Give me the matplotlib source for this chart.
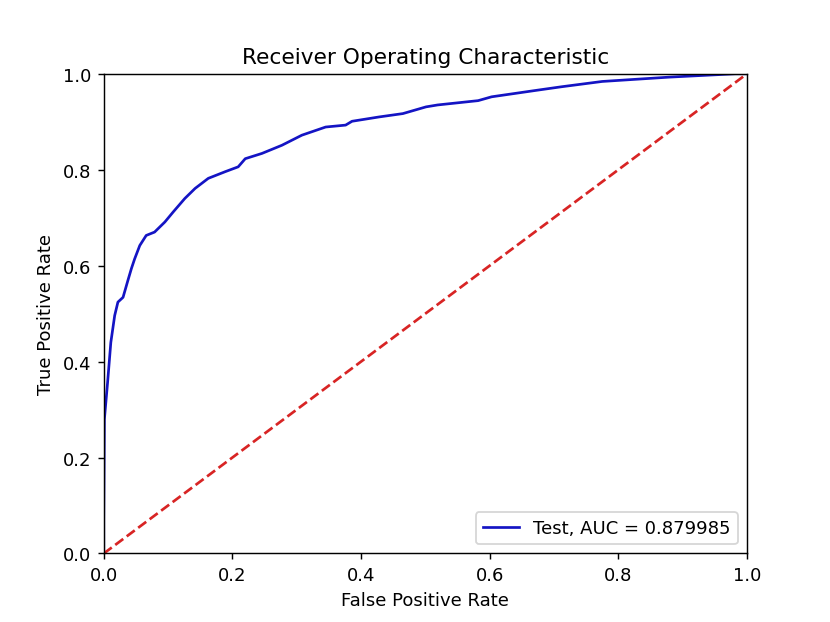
import numpy as np
import matplotlib
matplotlib.use('Agg')
import matplotlib.pyplot as plt

# ROC points
fpr = [0.0, 0.0, 0.001, 0.006, 0.011, 0.017, 0.022, 0.030, 0.0375, 0.043, 0.048,
       0.056, 0.066, 0.079, 0.095, 0.108, 0.126, 0.142, 0.1625, 0.189, 0.209,
       0.220, 0.246, 0.277, 0.308, 0.345, 0.376, 0.386, 0.428, 0.465, 0.501,
       0.519, 0.582, 0.603, 0.670, 0.712, 0.775, 0.879, 0.982, 1.0]
tpr = [0.0, 0.071, 0.28, 0.357, 0.44, 0.496, 0.524, 0.534, 0.569, 0.594, 0.614,
       0.642, 0.663, 0.670, 0.691, 0.712, 0.740, 0.761, 0.782, 0.796, 0.806,
       0.823, 0.834, 0.851, 0.872, 0.889, 0.893, 0.901, 0.910, 0.917, 0.931,
       0.935, 0.944, 0.952, 0.965, 0.973, 0.984, 0.993, 1.0, 1.0]
roc_auc = 0.879985

plt.figure(figsize=(6.4, 4.8037), dpi=129.6875)
plt.title('Receiver Operating Characteristic')
plt.plot(fpr, tpr, color='#1414c4', label='Test, AUC = %0.6f' % roc_auc)
plt.legend(loc='lower right')
plt.plot([0, 1], [0, 1], '--', color='#d82424')
plt.xlim([0, 1])
plt.ylim([0, 1])
plt.ylabel('True Positive Rate')
plt.xlabel('False Positive Rate')
plt.savefig('out.png')
